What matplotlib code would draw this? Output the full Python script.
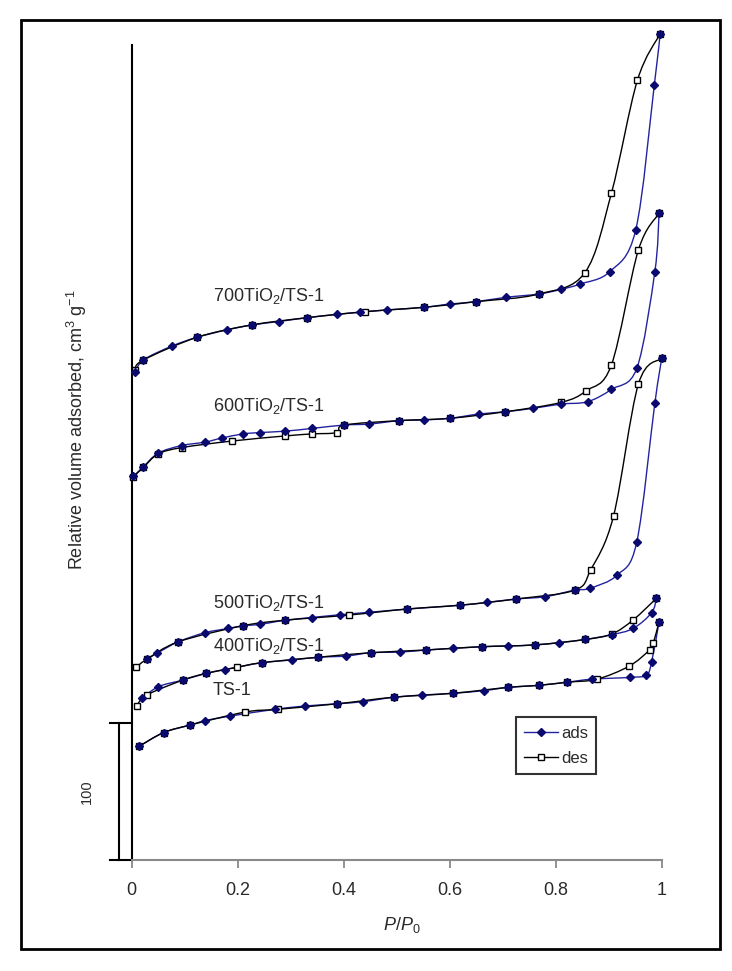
import matplotlib
matplotlib.use("Agg")
import matplotlib.pyplot as plt
import matplotlib.transforms as mtransforms
from matplotlib.lines import Line2D
from matplotlib.patches import Rectangle, PathPatch
from matplotlib.path import Path

plt.rcParams["font.family"] = ["Liberation Sans", "DejaVu Sans"]
plt.rcParams["mathtext.fontset"] = "custom"
plt.rcParams["mathtext.rm"] = "Liberation Sans"
plt.rcParams["mathtext.it"] = "Liberation Sans:italic"

# Isotherm data (P/P0, relative volume, cm3/g; curves are offset vertically)
ts1_ads_p = [0.014, 0.06, 0.11, 0.138, 0.185, 0.27, 0.327, 0.387, 0.437, 0.494, 0.548, 0.606,
             0.664, 0.71, 0.768, 0.822, 0.868, 0.94, 0.971, 0.981, 0.995]
ts1_ads_v = [83, 93, 98.5, 101.7, 105, 110, 112.4, 114, 115.6, 118.8, 120.4, 121.7,
             123.6, 126, 127.5, 129.8, 132, 133.3, 135, 144.7, 174]
ts1_des_p = [0.995, 0.984, 0.977, 0.939, 0.878, 0.822, 0.768, 0.71, 0.606, 0.494, 0.387,
             0.275, 0.214, 0.11, 0.06, 0.014]
ts1_des_v = [174, 158.2, 153.3, 141.6, 132, 129.8, 127.5, 126, 121.7, 118.8, 114,
             110, 108, 98.5, 93, 83]

t400_ads_p = [0.02, 0.05, 0.097, 0.141, 0.176, 0.245, 0.302, 0.352, 0.405, 0.451, 0.507, 0.556,
              0.606, 0.66, 0.71, 0.76, 0.806, 0.856, 0.906, 0.946, 0.981, 0.99]
t400_ads_v = [118, 126.5, 131.4, 136.3, 139, 144, 146, 148, 148.9, 151.3, 151.8, 153.3,
              154.5, 155.7, 156.2, 157, 158.6, 161, 164.5, 169, 180.5, 191]
t400_des_p = [0.99, 0.946, 0.906, 0.856, 0.76, 0.66, 0.556, 0.451, 0.352, 0.245, 0.198,
              0.141, 0.097, 0.028, 0.009]
t400_des_v = [191, 175.2, 165, 161, 157, 155.7, 153.3, 151.3, 148, 144, 140.6,
              136.3, 131.4, 120.4, 112.4]

t500_ads_p = [0.028, 0.047, 0.088, 0.138, 0.182, 0.21, 0.242, 0.289, 0.34, 0.392, 0.448, 0.52,
              0.62, 0.67, 0.725, 0.78, 0.836, 0.864, 0.916, 0.953, 0.987, 1.0]
t500_ads_v = [146.4, 150.8, 159.3, 165.9, 169, 171, 172, 175, 177, 179, 180.8, 183.2,
              186, 188, 190.5, 192.2, 197, 198.3, 208, 232.3, 333.4, 366.2]
t500_des_p = [1.0, 0.956, 0.909, 0.866, 0.836, 0.725, 0.62, 0.52, 0.41, 0.289, 0.21, 0.088,
              0.028, 0.008]
t500_des_v = [366.2, 347.4, 251, 211.7, 197, 190.5, 186, 183.2, 178.8, 175, 171, 159.3,
              146.4, 140.6]

t600_ads_p = [0.003, 0.022, 0.05, 0.094, 0.138, 0.17, 0.21, 0.242, 0.289, 0.34, 0.401, 0.448,
              0.505, 0.551, 0.6, 0.655, 0.705, 0.758, 0.81, 0.86, 0.905, 0.953, 0.987, 0.995]
t600_ads_v = [280, 287, 297, 302.5, 305, 308, 311, 312, 313, 315, 317.5, 318.2,
              320.7, 321.2, 322.4, 325.5, 327.2, 329.7, 332.8, 334.5, 343.5, 358.9, 429.4, 472]
t600_des_p = [0.995, 0.956, 0.905, 0.858, 0.81, 0.705, 0.6, 0.505, 0.401, 0.387, 0.34, 0.289,
              0.189, 0.094, 0.05, 0.022, 0.003]
t600_des_v = [472, 445.3, 361.3, 342.6, 334, 327.2, 322.4, 320.7, 317.5, 312, 311, 309.5,
              305.8, 301, 296.4, 286.6, 279.8]

t700_ads_p = [0.006, 0.022, 0.075, 0.123, 0.179, 0.226, 0.277, 0.33, 0.387, 0.43, 0.481, 0.551,
              0.6, 0.649, 0.706, 0.768, 0.81, 0.846, 0.902, 0.951, 0.986, 0.997]
t700_ads_v = [356, 365, 375, 381.5, 386.9, 390.5, 393, 395.8, 398.3, 399.8, 401.5, 403.4,
              405.8, 407.5, 410.7, 413.1, 416.5, 420.4, 429.4, 460, 565.7, 603]
t700_des_p = [0.997, 0.954, 0.905, 0.855, 0.768, 0.649, 0.551, 0.44, 0.33, 0.226, 0.123,
              0.022, 0.006]
t700_des_v = [603, 569, 486.6, 428.7, 413.1, 407.5, 403.4, 400.2, 395.8, 390.5, 381.5,
              365, 358]

curve_labels = ["700TiO$_2$/TS-1", "600TiO$_2$/TS-1", "500TiO$_2$/TS-1", "400TiO$_2$/TS-1", "TS-1"]
label_y = [411.7, 331.4, 187.8, 156.2, 123.4]
xticks = [0, 0.2, 0.4, 0.6, 0.8, 1]
xtick_labels = ["0", "0.2", "0.4", "0.6", "0.8", "1"]
scale_bar = 100

series = [
    (t700_ads_p, t700_ads_v, t700_des_p, t700_des_v),
    (t600_ads_p, t600_ads_v, t600_des_p, t600_des_v),
    (t500_ads_p, t500_ads_v, t500_des_p, t500_des_v),
    (t400_ads_p, t400_ads_v, t400_des_p, t400_des_v),
    (ts1_ads_p, ts1_ads_v, ts1_des_p, ts1_des_v),
]

ads_line = "#2323a0"
ads_mark = "#0a0a6e"
text_col = "#2a2a2a"


def smooth_path(xs, ys):
    # Excel-style smoothed line: cubic Bezier segments through the data points
    pts = list(zip(xs, ys))
    n = len(pts)
    verts = [pts[0]]
    codes = [Path.MOVETO]
    for i in range(n - 1):
        p0 = pts[i - 1] if i > 0 else pts[i]
        p1 = pts[i]
        p2 = pts[i + 1]
        p3 = pts[i + 2] if i + 2 < n else pts[i + 1]
        c1 = (p1[0] + (p2[0] - p0[0]) / 6, p1[1] + (p2[1] - p0[1]) / 6)
        c2 = (p2[0] - (p3[0] - p1[0]) / 6, p2[1] - (p3[1] - p1[1]) / 6)
        verts += [c1, c2, p2]
        codes += [Path.CURVE4] * 3
    return Path(verts, codes)


fig = plt.figure(figsize=(7.32, 9.71), dpi=100)
ax = fig.add_axes([0.180, 0.1143, 0.724, 0.8394])

for ap, av, dp, dv in series:
    ax.add_patch(PathPatch(smooth_path(ap, av), fill=False, edgecolor=ads_line, lw=1.0,
                           zorder=2, clip_on=False))
    ax.add_patch(PathPatch(smooth_path(dp, dv), fill=False, edgecolor="black", lw=1.0,
                           zorder=3, clip_on=False))
    ax.plot(dp, dv, ls="none", marker="s", ms=4.5, mfc="white", mec="black", mew=1.0,
            zorder=4, clip_on=False)
    ax.plot(ap, av, ls="none", marker="D", ms=3.8, mfc=ads_mark, mec=ads_mark,
            zorder=5, clip_on=False)

for lab, ly in zip(curve_labels, label_y):
    ax.text(0.153, ly, lab, fontsize=13, color=text_col, ha="left", va="center")

ax.set_xlim(0, 1)
ax.set_ylim(0, 594.9)
ax.set_xticks(xticks)
ax.set_xticklabels(xtick_labels, fontsize=13, color=text_col)
ax.set_yticks([])
ax.spines["top"].set_visible(False)
ax.spines["right"].set_visible(False)
ax.spines["left"].set_color("black")
ax.spines["left"].set_linewidth(1.5)
ax.spines["bottom"].set_color("#8a8a8a")
ax.spines["bottom"].set_linewidth(1.5)
ax.tick_params(axis="x", direction="out", length=6, width=1.3, color="#8a8a8a", pad=10)

# scale bar for 100 cm3/g
trans = mtransforms.blended_transform_factory(ax.transAxes, ax.transData)
ax.plot([-0.024, -0.024], [0, scale_bar], color="black", lw=1.5, transform=trans, clip_on=False)
ax.plot([-0.041, 0], [scale_bar, scale_bar], color="black", lw=1.5, transform=trans, clip_on=False)
ax.plot([-0.041, 0], [0, 0], color="black", lw=1.5, transform=trans, clip_on=False)
ax.text(-0.084, scale_bar / 2, str(scale_bar), rotation=90, fontsize=10.5, color=text_col,
        ha="center", va="center", transform=trans)

fig.text(77 / 732, 1 - 430 / 971, "Relative volume adsorbed, cm$^3$ g$^{-1}$", rotation=90,
         fontsize=13, color=text_col, ha="center", va="center")
fig.text(402 / 732, 1 - 925 / 971, "$P/P_0$", fontsize=13, color=text_col, ha="center", va="center")

handles = [
    Line2D([], [], color=ads_line, lw=1.0, marker="D", ms=3.8, mfc=ads_mark, mec=ads_mark),
    Line2D([], [], color="black", lw=1.0, marker="s", ms=4.5, mfc="white", mec="black"),
]
leg = ax.legend(handles, ["ads", "des"], loc="lower left", bbox_to_anchor=(0.725, 0.1055),
                fontsize=12, frameon=True, fancybox=False, handlelength=2.0, handletextpad=0.2,
                borderpad=0.5, labelspacing=0.6, borderaxespad=0)
leg.get_frame().set_edgecolor("black")
leg.get_frame().set_linewidth(1.5)
for t in leg.get_texts():
    t.set_color(text_col)

# outer frame around the chart
fig.patches.append(Rectangle((21 / 732, 1 - 949 / 971), (720 - 21) / 732, (949 - 20) / 971,
                             transform=fig.transFigure, fill=False, edgecolor="black", lw=2))

plt.savefig("out.png", dpi=100)
plt.close()
